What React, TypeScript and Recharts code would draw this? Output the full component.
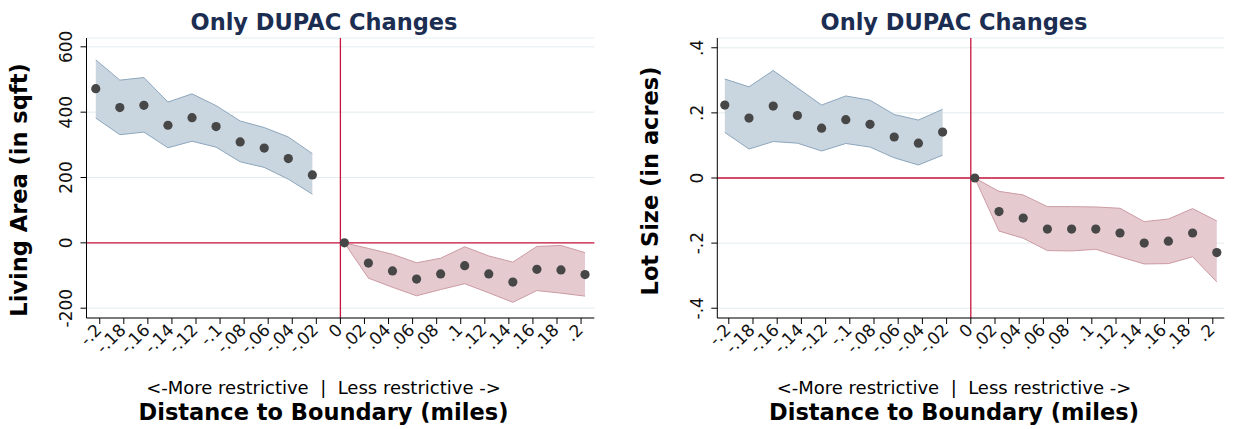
import { Area, CartesianGrid, ComposedChart, ReferenceLine, Scatter, XAxis, YAxis } from "recharts";

// distance bins (miles), left = more restrictive side, right = less restrictive side
const distLeft = [-0.2033, -0.1833, -0.1633, -0.1433, -0.1233, -0.1033, -0.0833, -0.0633, -0.0433, -0.0233];
const distRight = [0.0033, 0.0233, 0.0433, 0.0633, 0.0833, 0.1033, 0.1233, 0.1433, 0.1633, 0.1833, 0.2033];

const xTicks = [-0.2, -0.18, -0.16, -0.14, -0.12, -0.1, -0.08, -0.06, -0.04, -0.02, 0, 0.02, 0.04, 0.06, 0.08, 0.1, 0.12, 0.14, 0.16, 0.18, 0.2];
const xTickLabels = ["-.2", "-.18", "-.16", "-.14", "-.12", "-.1", "-.08", "-.06", "-.04", "-.02", "0", ".02", ".04", ".06", ".08", ".1", ".12", ".14", ".16", ".18", ".2"];

// Living area (sqft)
const livingLeft = [472, 414, 421, 360, 383, 356, 309, 290, 258, 208];
const livingLeftLo = [382, 331, 339, 291, 311, 293, 248, 231, 195, 149];
const livingLeftHi = [560, 498, 506, 431, 456, 420, 373, 353, 324, 273];
const livingRight = [0, -62, -86, -111, -95, -70, -95, -120, -81, -83, -97];
const livingRightLo = [0, -108, -136, -162, -143, -125, -153, -182, -146, -154, -163];
const livingRightHi = [0, -17, -35, -61, -47, -12, -40, -59, -11, -8, -30];
const livingTicks = [-200, 0, 200, 400, 600];
const livingTickLabels = ["-200", "0", "200", "400", "600"];

// Lot size (acres)
const lotLeft = [0.224, 0.184, 0.221, 0.192, 0.153, 0.179, 0.165, 0.126, 0.107, 0.141];
const lotLeftLo = [0.14, 0.089, 0.112, 0.107, 0.083, 0.106, 0.095, 0.062, 0.04, 0.07];
const lotLeftHi = [0.304, 0.28, 0.33, 0.277, 0.224, 0.252, 0.239, 0.195, 0.178, 0.211];
const lotRight = [0, -0.103, -0.123, -0.157, -0.157, -0.157, -0.169, -0.2, -0.194, -0.169, -0.229];
const lotRightLo = [0, -0.163, -0.185, -0.223, -0.224, -0.219, -0.242, -0.264, -0.263, -0.242, -0.319];
const lotRightHi = [0, -0.041, -0.052, -0.088, -0.088, -0.089, -0.093, -0.134, -0.126, -0.094, -0.132];
const lotTicks = [-0.4, -0.2, 0, 0.2, 0.4];
const lotTickLabels = ["-.4", "-.2", "0", ".2", ".4"];

const FONT = "'DejaVu Sans', sans-serif";
const NAVY = "#1c2d52";
const RED = "#c8143c";

type Row = { x: number; est: number; bandL: [number, number] | null; bandR: [number, number] | null };

function buildRows(estL: number[], loL: number[], hiL: number[], estR: number[], loR: number[], hiR: number[]): Row[] {
  const left = distLeft.map((x, i) => ({ x, est: estL[i], bandL: [loL[i], hiL[i]] as [number, number], bandR: null }));
  const right = distRight.map((x, i) => ({ x, est: estR[i], bandL: null, bandR: [loR[i], hiR[i]] as [number, number] }));
  return [...left, ...right];
}

const livingRows = buildRows(livingLeft, livingLeftLo, livingLeftHi, livingRight, livingRightLo, livingRightHi);
const lotRows = buildRows(lotLeft, lotLeftLo, lotLeftHi, lotRight, lotRightLo, lotRightHi);

function labelFor(value: number, ticks: number[], labels: string[]) {
  const idx = ticks.findIndex((t) => Math.abs(t - value) < 1e-6);
  return idx >= 0 ? labels[idx] : String(value);
}

function XTick({ x, y, payload }: any) {
  const tx = x + 3;
  const ty = y + 7;
  return (
    <text x={tx} y={ty} transform={`rotate(-45 ${tx} ${ty})`} textAnchor="end" fontSize={17} fontFamily={FONT} fill="#111">
      {labelFor(payload.value, xTicks, xTickLabels)}
    </text>
  );
}

function makeYTick(ticks: number[], labels: string[]) {
  return function YTick({ x, y, payload }: any) {
    return (
      <text x={x} y={y} transform={`rotate(-90 ${x} ${y})`} textAnchor="middle" fontSize={17} fontFamily={FONT} fill="#111">
        {labelFor(payload.value, ticks, labels)}
      </text>
    );
  };
}

function Dot(props: any) {
  if (props.cx == null || props.cy == null) return null;
  return <circle cx={props.cx} cy={props.cy} r={4.6} fill="#474747" />;
}

type PanelProps = {
  rows: Row[];
  width: number;
  marginLeft: number;
  marginRight: number;
  xDomain: [number, number];
  yDomain: [number, number];
  yTicks: number[];
  yTickLabels: string[];
};

function Panel({ rows, width, marginLeft, marginRight, xDomain, yDomain, yTicks, yTickLabels }: PanelProps) {
  return (
    <ComposedChart width={width} height={429} data={rows} margin={{ top: 38, right: marginRight, left: marginLeft, bottom: 51 }}>
      <CartesianGrid vertical={false} stroke="#e2ecef" strokeWidth={1} />
      <XAxis
        type="number"
        dataKey="x"
        domain={xDomain}
        ticks={xTicks}
        interval={0}
        height={60}
        tickSize={6}
        tickMargin={0}
        tick={<XTick />}
        stroke="#000"
        tickLine={{ stroke: "#000" }}
        allowDataOverflow
      />
      <YAxis
        type="number"
        domain={yDomain}
        ticks={yTicks}
        interval={0}
        width={50}
        tickSize={6}
        tickMargin={8}
        tick={makeYTick(yTicks, yTickLabels)}
        stroke="#000"
        tickLine={{ stroke: "#000" }}
        allowDataOverflow
      />
      <Area type="linear" dataKey="bandL" stroke="#8ca6bd" strokeWidth={1} fill="#c9d5df" fillOpacity={1} isAnimationActive={false} />
      <Area type="linear" dataKey="bandR" stroke="#cc9aa2" strokeWidth={1} fill="#e5cbcf" fillOpacity={1} isAnimationActive={false} />
      <ReferenceLine y={0} stroke={RED} strokeWidth={1.3} />
      <ReferenceLine x={0} stroke={RED} strokeWidth={1.3} />
      <Scatter dataKey="est" shape={<Dot />} isAnimationActive={false} />
    </ComposedChart>
  );
}

export default function App() {
  return (
    <div style={{ position: "absolute", left: 0, top: 0, width: 1239, height: 429, background: "#fff", fontFamily: FONT }}>
      <div style={{ position: "absolute", left: 0, top: 0 }}>
        <Panel
          rows={livingRows}
          width={620}
          marginLeft={36.5}
          marginRight={25.7}
          xDomain={[-0.211, 0.211]}
          yDomain={[-230, 627]}
          yTicks={livingTicks}
          yTickLabels={livingTickLabels}
        />
      </div>
      <div style={{ position: "absolute", left: 620, top: 0 }}>
        <Panel
          rows={lotRows}
          width={619}
          marginLeft={47.3}
          marginRight={14.7}
          xDomain={[-0.2095, 0.2095]}
          yDomain={[-0.43, 0.43]}
          yTicks={lotTicks}
          yTickLabels={lotTickLabels}
        />
      </div>
      <svg width={1239} height={429} style={{ position: "absolute", left: 0, top: 0, pointerEvents: "none" }}>
        <g fontFamily={FONT}>
          <text x={324} y={30} textAnchor="middle" fontSize={22.5} fontWeight="bold" fill={NAVY}>Only DUPAC Changes</text>
          <text x={954} y={30} textAnchor="middle" fontSize={22.5} fontWeight="bold" fill={NAVY}>Only DUPAC Changes</text>
          <text x={27} y={190} transform="rotate(-90 27 190)" textAnchor="middle" fontSize={22.5} fontWeight="bold" fill="#000">Living Area (in sqft)</text>
          <text x={658} y={181} transform="rotate(-90 658 181)" textAnchor="middle" fontSize={22.5} fontWeight="bold" fill="#000">Lot Size (in acres)</text>
          <text x={323.5} y={394} textAnchor="middle" fontSize={18} fill="#000" style={{ whiteSpace: "pre" }}>{"<-More restrictive  |  Less restrictive ->"}</text>
          <text x={954} y={394} textAnchor="middle" fontSize={18} fill="#000" style={{ whiteSpace: "pre" }}>{"<-More restrictive  |  Less restrictive ->"}</text>
          <text x={323.5} y={420} textAnchor="middle" fontSize={22.5} fontWeight="bold" fill="#000">Distance to Boundary (miles)</text>
          <text x={954} y={420} textAnchor="middle" fontSize={22.5} fontWeight="bold" fill="#000">Distance to Boundary (miles)</text>
        </g>
      </svg>
    </div>
  );
}
